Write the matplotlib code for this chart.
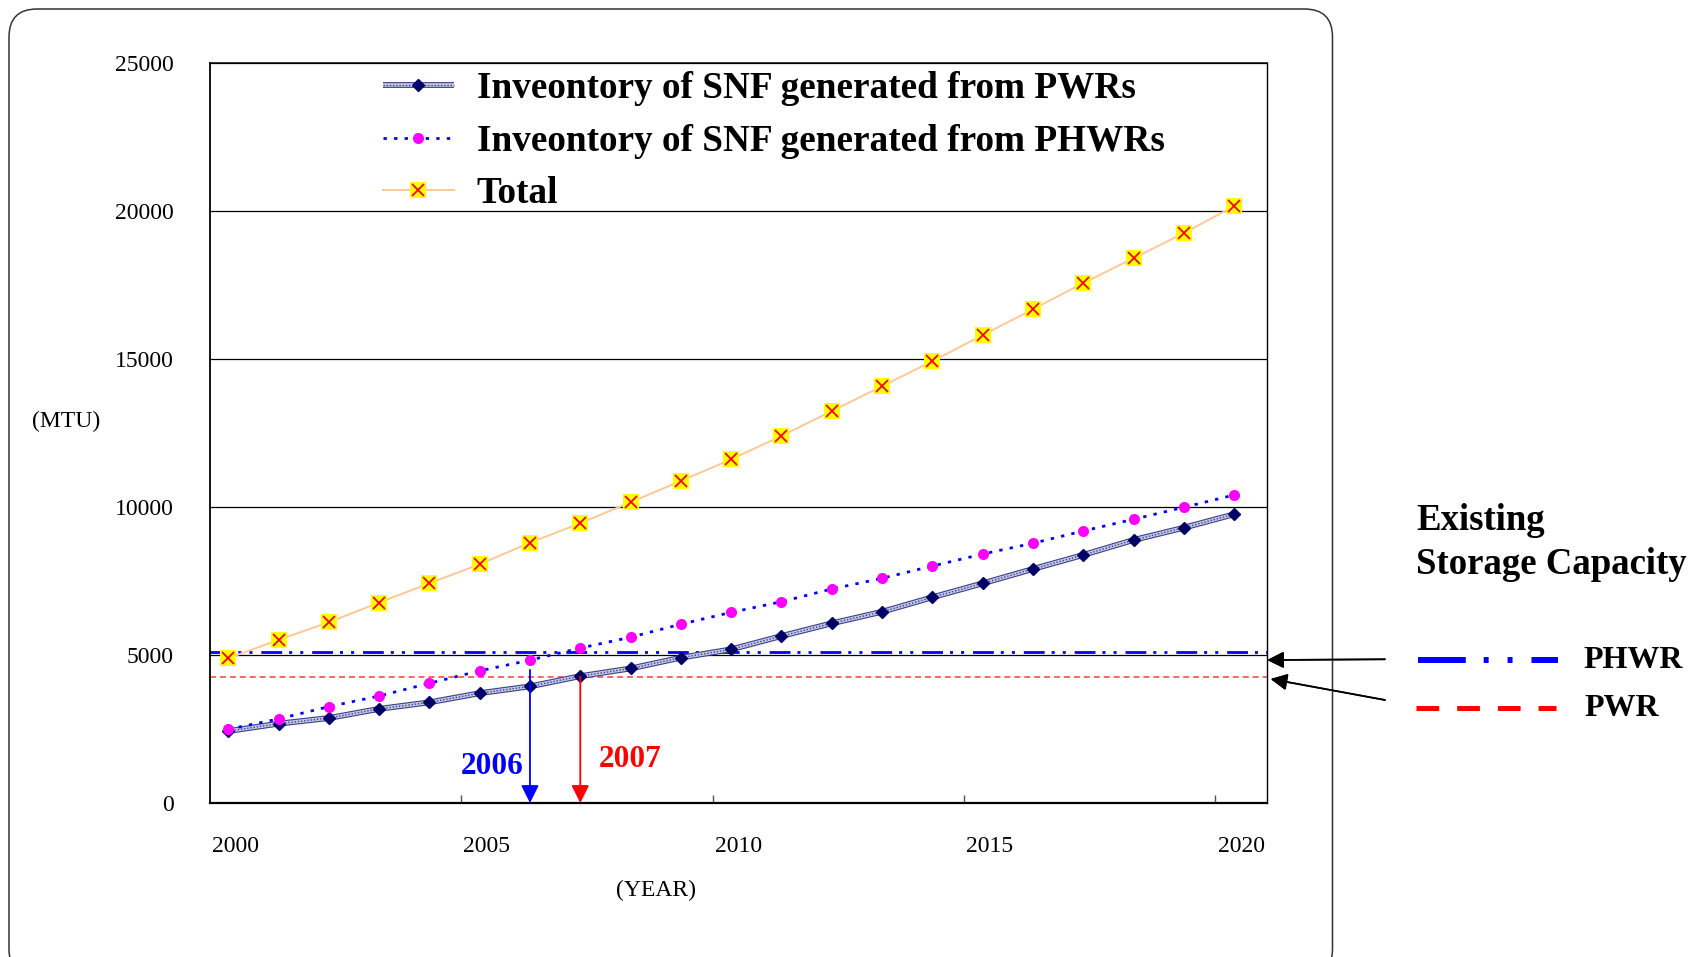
import matplotlib
matplotlib.use("Agg")
import matplotlib.pyplot as plt
from matplotlib import patheffects as pe
from matplotlib.lines import Line2D
from matplotlib.patches import FancyBboxPatch
from matplotlib.transforms import IdentityTransform, ScaledTranslation

plt.rcParams['font.family'] = ['Liberation Serif', 'DejaVu Serif']

# ---- data (MTU) ----
years = list(range(2000, 2021))
pwr_inventory = [2430, 2680, 2870, 3180, 3400, 3710, 3940, 4285, 4545, 4910, 5190,
                 5640, 6070, 6460, 6950, 7420, 7905, 8380, 8885, 9300, 9755]
phwr_inventory = [2490, 2840, 3255, 3615, 4045, 4465, 4825, 5235, 5600, 6040, 6440,
                  6800, 7230, 7590, 8005, 8410, 8775, 9190, 9585, 9990, 10405]
total_inventory = [4890, 5510, 6105, 6770, 7425, 8065, 8795, 9450, 10160, 10880, 11610,
                   12400, 13240, 14080, 14925, 15805, 16680, 17565, 18405, 19250, 20165]
phwr_capacity = 5100
pwr_capacity = 4270
phwr_full_year = 2006
pwr_full_year = 2007

y_ticks = [0, 5000, 10000, 15000, 20000, 25000]
x_tick_years = [2000, 2005, 2010, 2015, 2020]
legend_labels = ["Inveontory of SNF generated from PWRs",
                 "Inveontory of SNF generated from PHWRs",
                 "Total"]

W, H = 1701, 957
fig = plt.figure(figsize=(W / 100, H / 100), dpi=100)


def fpos(x, y):
    """pixel position (from top-left) -> figure fraction"""
    return x / W, (H - y) / H


ax = fig.add_axes([209.6 / W, (H - 803) / H, 1057.2 / W, 740 / H])
x_lo, x_hi = 1999.63, 2020.65
ax.set_xlim(x_lo, x_hi)
ax.set_ylim(0, 25000)

# existing storage capacity lines
ax.axhline(phwr_capacity, color='#0000ff', lw=2.0,
           ls=(0, (7.5, 2.5, 1.1, 2.9, 1.1, 3.2)), zorder=2)
ax.axhline(pwr_capacity, color='#ff3b3b', lw=1.1, ls=(0, (3.9, 2.6)), zorder=2)

# PWR inventory: textured band with navy diamonds
pwr_base, = ax.plot(years, pwr_inventory, color='#c4c8e4', lw=2.6, zorder=4,
                    solid_capstyle='butt',
                    path_effects=[pe.Stroke(linewidth=4.2, foreground='#3a3f8c'),
                                  pe.Normal()])
pwr_line, = ax.plot(years, pwr_inventory, color='#3a3f8c', lw=1.0, ls=(0, (1, 1.3)),
                    marker='D', ms=6.6, mfc='#000066', mec='#000066', zorder=5)

# PHWR inventory: blue dotted line with magenta dots
phwr_line, = ax.plot(years, phwr_inventory, color='#0000ff', lw=2.0, ls=(0, (1.2, 2.6)),
                     marker='o', ms=8.0, mfc='#ff00ff', mec='#ff00ff', mew=0, zorder=5)

# total: peach line, yellow squares with red crosses
total_line, = ax.plot(years, total_inventory, color='#ffc896', lw=1.4,
                      marker='s', ms=11.5, mfc='#ffff00', mec='#ffff00', mew=0, zorder=6)
total_marks, = ax.plot(years, total_inventory, ls='none', marker='x', ms=8.0,
                       mec='#ff0000', mew=1.3, zorder=7)

# arrows marking when storage is full
ax.annotate('', xy=(phwr_full_year, 0),
            xytext=(phwr_full_year, phwr_inventory[years.index(phwr_full_year)]),
            arrowprops=dict(arrowstyle='-|>,head_length=0.4,head_width=0.2',
                            mutation_scale=27, color='#0000ff', lw=1.3,
                            shrinkA=7, shrinkB=0), zorder=8)
ax.annotate('', xy=(pwr_full_year, 0), xytext=(pwr_full_year, pwr_capacity),
            arrowprops=dict(arrowstyle='-|>,head_length=0.4,head_width=0.2',
                            mutation_scale=27, color='#ff0000', lw=1.3,
                            shrinkA=0, shrinkB=0), zorder=8)
ax.text(phwr_full_year - 0.76, 1250, str(phwr_full_year), color='#0000ff',
        fontsize=22.5, fontweight='bold', ha='center', va='center')
ax.text(pwr_full_year + 1.0, 1470, str(pwr_full_year), color='#ff0000',
        fontsize=22.5, fontweight='bold', ha='center', va='center')

# axes styling
ax.set_yticks(y_ticks)
ax.tick_params(axis='y', length=0, pad=26, labelsize=17)
ax.yaxis.grid(True, color='black', lw=0.9)
ax.set_axisbelow(True)
ax.set_xticks(x_tick_years)
ax.tick_params(axis='x', which='major', length=0, pad=23.5, labelsize=17)
shift = ScaledTranslation(7 / 100, 0, fig.dpi_scale_trans)
for lab in ax.get_xticklabels():
    lab.set_transform(lab.get_transform() + shift)
ax.set_xticks([x_lo + 5 * i for i in range(1, 5)], minor=True)
ax.tick_params(axis='x', which='minor', direction='in', length=6, width=1.0,
               color='#555555', labelbottom=False)
for side, lw in (('left', 1.3), ('bottom', 1.6), ('top', 1.1), ('right', 1.0)):
    ax.spines[side].set_linewidth(lw)
    ax.spines[side].set_color('black')

ax.set_ylabel('(MTU)', rotation=0, fontsize=17, ha='center', va='center')
ax.yaxis.set_label_coords(-0.1358, 0.516)
ax.set_xlabel('(YEAR)', fontsize=17, va='center')
ax.xaxis.set_label_coords(0.422, -0.1185)

# legend
ax.legend(handles=[(pwr_base, pwr_line), phwr_line, (total_line, total_marks)],
          labels=legend_labels, loc='upper left',
          bbox_to_anchor=fpos(383, 71.5), bbox_transform=fig.transFigure,
          frameon=False, numpoints=1, handlelength=1.9, handletextpad=0.62,
          borderpad=0, borderaxespad=0, labelspacing=0.46,
          prop=dict(weight='bold', size=26.8))

# existing storage capacity key on the right
fig.text(*fpos(1416, 520), 'Existing', fontsize=26.5, fontweight='bold',
         ha='left', va='center')
fig.text(*fpos(1416, 564), 'Storage Capacity', fontsize=26.5, fontweight='bold',
         ha='left', va='center')

x0, y0 = fpos(1417.7, 660)
x1, _ = fpos(1558, 660)
fig.add_artist(Line2D([x0, x1], [y0, y0], transform=fig.transFigure, color='#0000ff',
                      lw=4.3, ls=(0, (8, 3, 0.83, 3.17, 0.83, 3.17)),
                      dash_capstyle='butt'))
x0, y0 = fpos(1415.7, 708)
x1, _ = fpos(1556, 708)
fig.add_artist(Line2D([x0, x1], [y0, y0], transform=fig.transFigure, color='#ff0000',
                      lw=3.6, ls=(0, (4.54, 3.6)), dash_capstyle='butt'))
fig.text(*fpos(1583, 660), 'PHWR', fontsize=23, fontweight='bold', ha='left', va='center')
fig.text(*fpos(1584, 709), 'PWR', fontsize=23, fontweight='bold', ha='left', va='center')

arrow_kw = dict(arrowstyle='-|>,head_length=0.4,head_width=0.2', mutation_scale=25,
                color='black', lw=1.2, shrinkA=0, shrinkB=0)
fig.add_artist(plt.annotate('', xy=fpos(1267.3, 660), xytext=fpos(1385, 659.3),
                            xycoords='figure fraction', textcoords='figure fraction',
                            arrowprops=arrow_kw, annotation_clip=False))
fig.add_artist(plt.annotate('', xy=fpos(1270.7, 679), xytext=fpos(1385, 700),
                            xycoords='figure fraction', textcoords='figure fraction',
                            arrowprops=arrow_kw, annotation_clip=False))

# rounded frame around the chart
frame = FancyBboxPatch((9, -20), 1323.5, 968,
                       boxstyle='round,pad=0,rounding_size=28',
                       transform=IdentityTransform(), fill=False,
                       ec='#333333', lw=1.1)
fig.add_artist(frame)

fig.savefig('out.png', dpi=100)
